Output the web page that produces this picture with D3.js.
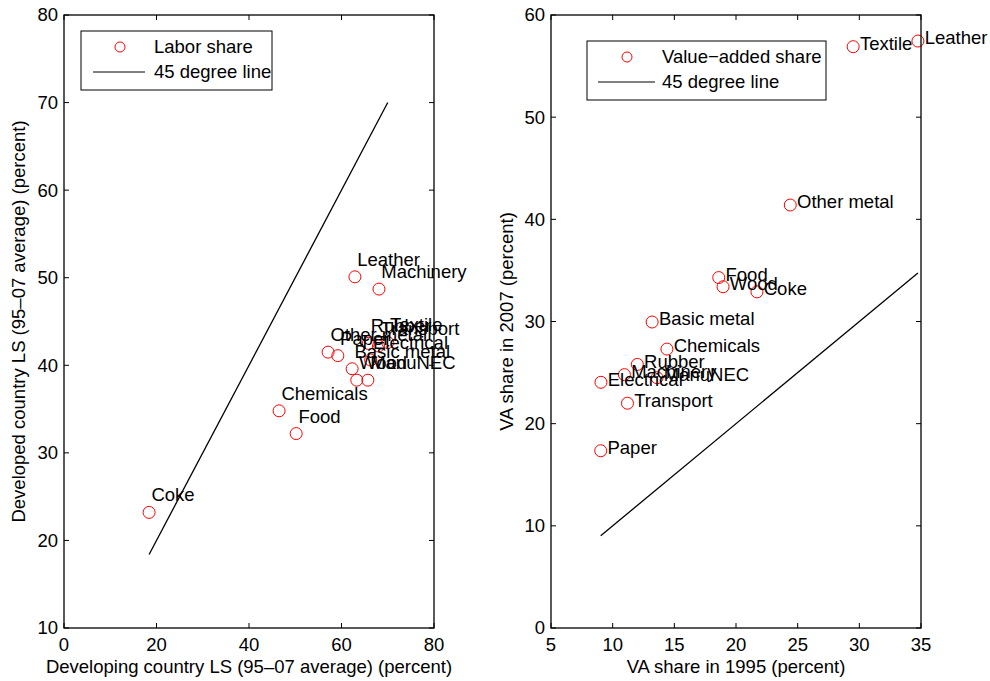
<!DOCTYPE html>
<html>
<head>
<meta charset="utf-8">
<script src="https://cdn.jsdelivr.net/npm/d3@7"></script>
<style>
  body { margin: 0; background: #fff; }
  text { font-family: "Liberation Sans", Arial, Helvetica, sans-serif; fill: #000; }
</style>
</head>
<body>
<svg id="chart" width="990" height="681"></svg>
<script>
// ---------- Data ----------
const industries = ["Coke","Chemicals","Food","Leather","Machinery","Other metal","Paper",
  "Basic metal","Wood","ManuNEC","Electrical","Rubber","Textile","Transport"];

// Left panel: labor share
const lsDeveloping = [18.4, 46.5, 50.2, 62.9, 68.1, 57.1, 59.2, 62.3, 63.3, 65.7, 66.3, 65.8, 70.0, 68.0];
const lsDeveloped  = [23.2, 34.8, 32.2, 50.1, 48.7, 41.5, 41.1, 39.6, 38.3, 38.3, 40.6, 42.5, 42.6, 42.2];

// Right panel: value-added share
const vaIndustries = ["Leather","Textile","Other metal","Food","Wood","Coke","Basic metal","Chemicals",
  "Rubber","Machinery","ManuNEC","Electrical","Transport","Paper"];
const va1995 = [34.75, 29.5, 24.4, 18.6, 18.95, 21.7, 13.2, 14.4, 12.0, 10.95, 13.6, 9.05, 11.2, 9.03];
const va2007 = [57.45, 56.9, 41.4, 34.3, 33.4, 32.9, 29.95, 27.3, 25.8, 24.8, 24.5, 24.05, 22.0, 17.35];

const leftXTicks = [0, 20, 40, 60, 80];
const leftYTicks = [10, 20, 30, 40, 50, 60, 70, 80];
const rightXTicks = [5, 10, 15, 20, 25, 30, 35];
const rightYTicks = [0, 10, 20, 30, 40, 50, 60];

// ---------- Drawing ----------
const svg = d3.select("#chart");
svg.append("rect").attr("width", 990).attr("height", 681).attr("fill", "#fff");
const FS = 18.5;

function panel(opt) {
  const g = svg.append("g");
  const x = d3.scaleLinear().domain(opt.xDomain).range([opt.left, opt.right]);
  const y = d3.scaleLinear().domain(opt.yDomain).range([opt.bottom, opt.top]);
  const tl = 5;

  // 45-degree line (from min x to max x)
  const xmin = d3.min(opt.xs), xmax = d3.max(opt.xs);
  g.append("line")
    .attr("x1", x(xmin)).attr("y1", y(xmin))
    .attr("x2", x(xmax)).attr("y2", y(xmax))
    .attr("stroke", "#000").attr("stroke-width", 1.3);

  // points
  const pts = opt.names.map((n, i) => ({ n, vx: opt.xs[i], vy: opt.ys[i] }));
  g.selectAll("circle.pt").data(pts).enter().append("circle")
    .attr("class", "pt")
    .attr("cx", d => x(d.vx)).attr("cy", d => y(d.vy)).attr("r", 6)
    .attr("fill", "none").attr("stroke", "#ff0000").attr("stroke-width", 1);

  // labels
  g.selectAll("text.lbl").data(pts).enter().append("text")
    .attr("class", "lbl")
    .attr("x", d => x(d.vx + opt.lblDx))
    .attr("y", d => y(d.vy + opt.lblDy))
    .attr("dy", "0.35em")
    .attr("font-size", FS)
    .text(d => d.n);

  // box
  g.append("rect")
    .attr("x", opt.left).attr("y", opt.top)
    .attr("width", opt.right - opt.left).attr("height", opt.bottom - opt.top)
    .attr("fill", "none").attr("stroke", "#000").attr("stroke-width", 1.3);

  // ticks x
  opt.xTicks.forEach(t => {
    g.append("line").attr("x1", x(t)).attr("x2", x(t))
      .attr("y1", opt.bottom).attr("y2", opt.bottom - tl).attr("stroke", "#000");
    g.append("line").attr("x1", x(t)).attr("x2", x(t))
      .attr("y1", opt.top).attr("y2", opt.top + tl).attr("stroke", "#000");
    g.append("text").attr("x", x(t)).attr("y", opt.bottom + 23)
      .attr("text-anchor", "middle").attr("font-size", FS).text(t);
  });
  opt.yTicks.forEach(t => {
    g.append("line").attr("y1", y(t)).attr("y2", y(t))
      .attr("x1", opt.left).attr("x2", opt.left + tl).attr("stroke", "#000");
    g.append("line").attr("y1", y(t)).attr("y2", y(t))
      .attr("x1", opt.right).attr("x2", opt.right - tl).attr("stroke", "#000");
    g.append("text").attr("x", opt.left - 6).attr("y", y(t))
      .attr("dy", "0.35em")
      .attr("text-anchor", "end").attr("font-size", FS).text(t);
  });

  // axis titles
  g.append("text").attr("x", (opt.left + opt.right) / 2).attr("y", opt.bottom + 45)
    .attr("text-anchor", "middle").attr("font-size", FS).text(opt.xTitle);
  g.append("text")
    .attr("transform", `translate(${opt.yTitleX},${(opt.top + opt.bottom) / 2}) rotate(-90)`)
    .attr("text-anchor", "middle").attr("font-size", FS).text(opt.yTitle);

  // legend
  const L = opt.legend;
  g.append("rect").attr("x", L.x).attr("y", L.y).attr("width", L.w).attr("height", L.h)
    .attr("fill", "#fff").attr("stroke", "#000").attr("stroke-width", 1);
  g.append("circle").attr("cx", L.x + L.markX).attr("cy", L.y + 16).attr("r", 5)
    .attr("fill", "none").attr("stroke", "#ff0000");
  g.append("text").attr("x", L.x + L.textX).attr("y", L.y + 16).attr("dy", "0.35em")
    .attr("font-size", FS).text(L.label1);
  g.append("line").attr("x1", L.x + L.lineX1).attr("x2", L.x + L.lineX2)
    .attr("y1", L.y + 41).attr("y2", L.y + 41).attr("stroke", "#000").attr("stroke-width", 1);
  g.append("text").attr("x", L.x + L.textX).attr("y", L.y + 41).attr("dy", "0.35em")
    .attr("font-size", FS).text(L.label2);
}

panel({
  left: 64, right: 434, top: 15, bottom: 628,
  xDomain: [0, 80], yDomain: [10, 80],
  xTicks: leftXTicks, yTicks: leftYTicks,
  names: industries, xs: lsDeveloping, ys: lsDeveloped,
  lblDx: 0.5, lblDy: 2,
  xTitle: "Developing country LS (95\u201307 average) (percent)",
  yTitle: "Developed country LS (95\u201307 average) (percent)",
  yTitleX: 25,
  legend: { x: 81, y: 31, w: 191, h: 59, markX: 39, textX: 73, lineX1: 12, lineX2: 64,
            label1: "Labor share", label2: "45 degree line" }
});

panel({
  left: 551, right: 921, top: 15, bottom: 628,
  xDomain: [5, 35], yDomain: [0, 60],
  xTicks: rightXTicks, yTicks: rightYTicks,
  names: vaIndustries, xs: va1995, ys: va2007,
  lblDx: 0.55, lblDy: 0.3,
  xTitle: "VA share in 1995 (percent)",
  yTitle: "VA share in 2007 (percent)",
  yTitleX: 513,
  legend: { x: 587, y: 41, w: 239, h: 59, markX: 40, textX: 75, lineX1: 11, lineX2: 68,
            label1: "Value\u2212added share", label2: "45 degree line" }
});
</script>
</body>
</html>
